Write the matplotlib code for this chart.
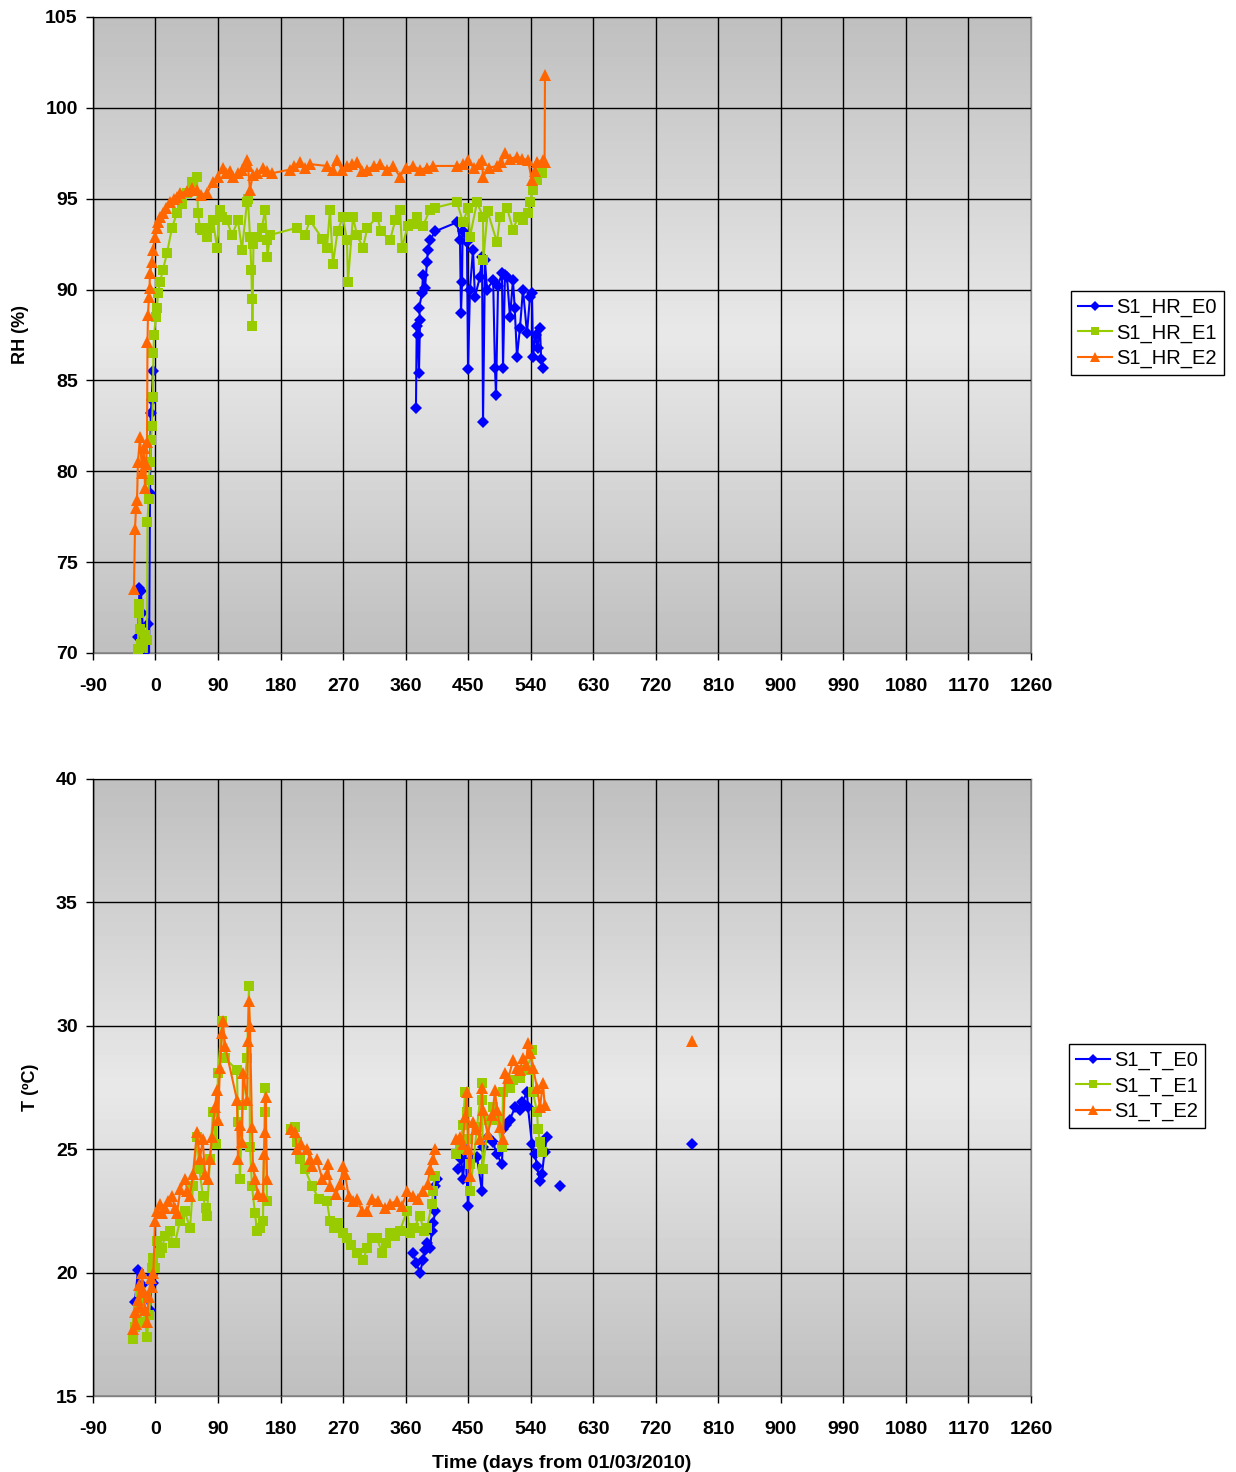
import numpy as np
import matplotlib
matplotlib.use("Agg")
import matplotlib.pyplot as plt

nan = np.nan

# ---- RH (%) -- top panel ----
hr_e0_day = [-27, -25.2, -23, -21, -19.4, -17, -14, -10.8, -9.5, -7.9, -6.8, -5.5, -3.6, nan,
             374.9, 376, 377.8, 379.2, 380.7, 379.5, 383.6, 385, 388, 390.7, 392.2, 395, 402.3,
             434, 438.3, 439.7, 441.2, 442, 448.3, 449.8, 452.6, 457, 459.8, 467, 470, 471.4,
             474.2, 477.1, 486, 488.6, 490.1, 493, 498.7, 500.2, 503, 505.9, 510.2, 514.5, 517,
             520.3, 524.6, 528.9, 534.7, 539, 541.9, 543.4, 547, 550, 553.4, 555, 557.7]
hr_e0 = [68.5, 70.9, 73.6, 73.4, 72.2, 70.0, 67.5, 71.6, 68.0, 78.8, 83.2, 83.9, 85.5, nan,
         83.5, 88.0, 87.5, 85.4, 88.3, 89.0, 89.8, 90.8, 90.1, 91.5, 92.2, 92.7, 93.2,
         93.7, 92.7, 88.7, 90.4, 93.2, 92.6, 85.6, 90.0, 92.2, 89.6, 90.7, 91.8, 82.7,
         91.6, 90.0, 90.5, 85.7, 84.2, 90.2, 90.9, 85.7, 90.8, 90.7, 88.5, 90.5, 89.0,
         86.3, 87.9, 90.0, 87.6, 89.6, 89.8, 86.3, 87.5, 86.8, 87.9, 86.2, 85.7]

hr_e1_day = [-26, -25.2, -24, -23, -22.3, -21, -19, -15, -13, -12.2, -11.5, -10, -9.4, -7.9,
             -6.5, -5, -3.6, -3, -2.2, 0.7, 2.2, 3.6, 6.5, 10.8, 16.6, 23.7, 30.9, 38.1, 45.3,
             52.5, 59.7, 61.2, 64, 66.9, 74.1, 78.4, 82.8, 88.5, 92.8, 95.7, 102.9, 110, 118.7,
             124.5, 131.7, 133.1, 136, 138, 138.9, 139.5, 141, 146, 153.3, 157.6, 160.5, 161,
             165, 203.7, 215, 222.4, 240, 246.8, 251.1, 255.4, 262, 269.8, 275.6, 277, 284.2,
             290, 298.6, 305, 318.8, 325, 337.5, 345, 351.9, 354.8, 363, 370, 376, 385, 395,
             402, 434, 442.6, 450, 452.6, 462.7, 471.4, 471.8, 478, 491.5, 495.8, 505.9, 514.5,
             522, 528.9, 536, 539, 543.4, 549.1, 556.3]
hr_e1 = [69.0, 70.2, 72.7, 72.2, 71.3, 70.5, 69.5, 71.0, 68.5, 70.7, 77.2, 78.5, 79.5, 80.5,
         81.7, 82.5, 84.1, 86.5, 87.5, 88.5, 89.0, 89.8, 90.4, 91.1, 92.0, 93.4, 94.2, 94.7, 95.3,
         95.9, 96.2, 94.2, 93.4, 93.3, 92.9, 93.4, 93.8, 92.3, 94.4, 94.0, 93.8, 93.0, 93.8,
         92.2, 94.8, 95.0, 92.9, 91.1, 89.5, 88.0, 92.5, 92.9, 93.4, 94.4, 92.7, 91.8,
         93.0, 93.4, 93.0, 93.8, 92.8, 92.3, 94.4, 91.4, 93.2, 94.0, 92.7, 90.4, 94.0,
         93.0, 92.3, 93.4, 94.0, 93.2, 92.7, 93.8, 94.4, 92.3, 93.5, 93.6, 94.0, 93.5, 94.4,
         94.5, 94.8, 93.7, 94.5, 92.9, 94.8, 94.0, 91.6, 94.3, 92.6, 94.0, 94.5, 93.3,
         94.0, 93.8, 94.2, 94.8, 95.5, 96.0, 96.4]

hr_e2_day = [-31, -29.5, -28, -26.6, -25.2, -22.3, -19.4, -17, -15, -13.5, -12.2, -11.5, -10.8,
             -9.4, -8.6, -7.9, -5, -3.6, -0.7, 1.5, 3.6, 7, 10.8, 15, 20.9, 26, 30.9, 36, 45.3,
             52, 59.7, 66, 74.1, 82.8, 90, 97.1, 102, 107.2, 111.5, 118.7, 125, 131.7, 133, 136,
             140.3, 146.1, 154.7, 160, 167.7, 193.6, 200, 208, 215, 222.4, 246.8, 255, 261.2,
             268, 275.6, 283, 290, 297, 304.4, 315, 323.1, 333, 341.8, 351.9, 360, 370.6, 380,
             390.7, 399.4, 434, 442, 449.8, 458, 465, 469.9, 471.4, 480, 491.5, 498, 503, 510,
             520.3, 528, 536.1, 541.9, 546, 549.1, 557.7, 560, 560.6]
hr_e2 = [73.5, 76.8, 78.0, 78.4, 80.5, 81.9, 79.9, 81.3, 79.1, 80.4, 81.6, 87.1, 88.6,
         89.6, 90.1, 90.9, 91.5, 92.2, 92.9, 93.4, 93.7, 94.0, 94.2, 94.5, 94.8, 95.0, 95.1, 95.3, 95.4,
         95.6, 95.5, 95.2, 95.3, 95.9, 96.2, 96.7, 96.4, 96.5, 96.2, 96.4, 96.6, 97.1, 96.8, 95.5,
         96.3, 96.4, 96.7, 96.5, 96.4, 96.6, 96.8, 97.0, 96.7, 96.9, 96.8, 96.6, 97.1,
         96.6, 96.8, 96.9, 97.0, 96.5, 96.6, 96.8, 96.9, 96.6, 96.8, 96.2, 96.7, 96.8, 96.6,
         96.7, 96.8, 96.8, 96.9, 97.1, 96.7, 96.9, 97.1, 96.2, 96.7, 96.8, 97.0, 97.5, 97.2,
         97.3, 97.2, 97.1, 96.0, 96.5, 97.0, 97.1, 97.0, 101.8]

# ---- T (ºC) -- bottom panel ----
t_e0_day = [-29.5, -25.2, -22.3, -20, -15, -7.9, -5.0, -3, nan,
            370.6, 375, 380.7, 385.0, 388, 390.7, 395, 397.9, 400, 402.3, 403, 405.2, nan,
            435.4, 440, 442.6, 446, 449.8, 452, 455.5, 462.7, 469.9, 471.4, 478, 485.8, 491,
            498.7, 500.2, 505, 510.2, 517.4, 524.6, 528, 534.7, 536.1, 541.9, 546.3, 549.1,
            553.4, 556.3, 560, 563.5, nan, 582.2, nan, 772.2]
t_e0 = [18.8, 20.1, 18.4, 19.5, 19.0, 18.5, 19.9, 19.6, nan,
        20.8, 20.4, 20.0, 20.5, 20.9, 21.2, 21.0, 21.7, 22.0, 22.5, 23.5, 23.8, nan,
        24.2, 24.6, 23.8, 25.0, 22.7, 24.5, 24.6, 24.7, 23.3, 25.1, 25.5, 25.3, 24.8,
        24.4, 25.8, 26.0, 26.2, 26.7, 26.6, 26.9, 27.3, 26.7, 25.2, 24.8, 24.3,
        23.7, 24.0, 24.9, 25.5, nan, 23.5, nan, 25.2]

t_e1_day = [-32.4, -30, -27, -25.2, -22, -19.4, -15, -12.2, -9, -5.0, -3.6, -1, 2.2, 6, 9.4,
            14, 20.9, 25, 28.1, 35.3, 42, 49.7, 54.0, 59.7, 63, 68.4, 72, 74.1, 78.4, 82.8, 87,
            90.0, 95.7, 100.0, 117.3, 118.7, 121.6, 125, 131.7, 134.6, 136.0, 138.9, 143.2,
            146.1, 150, 154.7, 157.6, 158, 160.5, nan,
            195, 200.8, 204, 208, 215, 225.3, 235, 246.8, 251.1, 257, 262.7, 270, 275.6, 282,
            290, 298.6, 305, 312, 318.8, 326.0, 332, 337.5, 345, 351.9, 362.0, 366.3, 372,
            380.7, 386, 390.7, 397.9, 399.4, 402.3, nan,
            432, 438, 442.6, 445.5, 448.3, 449.8, 452.6, 453, 462.7, 469.9, 470.5, 471, 480,
            485.8, 491.5, 498.7, 500.2, 510.2, 514.5, 524.6, 534.7, 541.9, 543.4, 549.1,
            550.6, 553.4, 556]
t_e1 = [17.3, 17.8, 18.2, 18.5, 19.2, 19.0, 18.0, 17.4, 18.3, 20.2, 20.6, 20.2, 21.3, 20.8, 21.0,
        21.5, 21.7, 21.2, 21.2, 22.1, 22.5, 21.8, 23.5, 25.5, 24.2, 23.1, 22.6, 22.3, 24.6, 26.5, 25.2,
        28.1, 30.2, 28.7, 28.2, 26.1, 23.8, 26.8, 28.7, 31.6, 25.1, 23.5, 22.4,
        21.7, 21.8, 22.1, 27.5, 26.5, 22.9, nan,
        25.8, 25.9, 25.3, 24.6, 24.2, 23.5, 23.0, 22.9, 22.1, 21.8, 22.0, 21.6, 21.4, 21.1,
        20.8, 20.5, 21.0, 21.4, 21.4, 20.8, 21.2, 21.6, 21.5, 21.7, 22.5, 21.6, 21.8,
        22.3, 21.7, 21.8, 22.8, 23.3, 23.9, nan,
        24.8, 25.0, 26.0, 27.3, 26.5, 25.4, 24.4, 23.3, 25.9, 27.7, 27.0, 24.2, 26.2,
        26.7, 26.2, 25.1, 27.3, 27.5, 27.8, 27.9, 28.2, 29.0, 27.3, 26.5,
        25.8, 25.3, 24.9]

t_e2_day = [-32.4, -30, -28, -25.2, -23, -22.3, -19.4, -17, -15, -12.2, -10, -7, -5.0, -3,
            -0.7, 2, 6.5, 10, 14, 18, 23.7, 28, 30.9, 36, 42.5, 46, 49.7, 54, 59.7, 64, 68,
            71.2, 75.6, 78.4, 81.3, 85.6, 88.5, 90, 92.8, 95.7, 97.1, 100, 117.3, 118.7, 121,
            124.5, 125.9, 131.7, 133.1, 134.6, 136, 138.9, 140.3, 143.2, 147.5, 154.7, 156,
            157.6, 158.5, 160.5, nan,
            195, 200.8, 203.7, 210, 218.1, 222, 225.3, 232, 240, 246.8, 248.3, 251.1, 260, 266,
            270, 272.8, 278, 284.2, 290, 297.2, 304.4, 312, 320.2, 330, 337.5, 347.6, 355, 362,
            370.6, 378, 385, 392, 395, 399.4, 402.3, nan,
            432, 438.3, 442, 445.5, 448.3, 450, 452.6, 457, 462, 467, 469.9, 471, 478, 485,
            488.6, 491.5, 495.8, 500.2, 503, 508, 514.5, 520.3, 524.6, 528.9, 533, 536.1, 539,
            543.4, 549.1, 553.4, 557.7, 560, nan, 772.2]
t_e2 = [17.7, 18.4, 17.9, 18.9, 19.5, 18.6, 20.0, 19.2, 18.5, 18.0, 19.0, 19.8, 19.4, 20.0,
        22.1, 22.5, 22.8, 22.4, 22.6, 22.9, 23.1, 22.6, 22.4, 23.4, 23.8, 23.3, 23.1, 24.0, 25.7, 24.6, 25.4,
        24.0, 23.8, 24.6, 25.5, 26.7, 27.4, 26.2, 28.3, 29.7, 30.2, 29.2, 27.0, 24.6, 26.0,
        25.3, 28.1, 27.0, 29.4, 31.0, 30.0, 25.9, 24.3, 23.8, 23.2, 23.1, 24.8,
        25.7, 27.1, 23.8, nan,
        25.8, 25.7, 25.0, 25.2, 25.0, 24.6, 24.3, 24.6, 23.8, 24.0, 24.4, 23.5, 23.2, 23.6,
        24.3, 24.0, 23.1, 22.9, 23.0, 22.5, 22.5, 23.0, 22.9, 22.6, 22.8, 22.9, 22.7, 23.3,
        23.1, 23.0, 23.3, 23.6, 24.2, 24.6, 25.0, nan,
        25.4, 25.5, 25.2, 26.3, 27.3, 25.0, 23.9, 26.1, 25.8, 25.4, 27.5, 26.6, 25.6, 26.4,
        27.4, 26.6, 25.9, 25.4, 28.1, 27.9, 28.6, 28.3, 28.2, 28.7, 28.4, 29.3, 28.9,
        28.3, 27.5, 26.7, 27.7, 26.8, nan, 29.4]

x_ticks = np.arange(-90, 1261, 90)
series_colors = ["#0000FF", "#99CC00", "#FF6600"]
series_markers = ["D", "s", "^"]
marker_sizes = [6.5, 7.5, 9]

plt.rcParams["font.family"] = ["Liberation Sans", "DejaVu Sans"]
plt.rcParams["axes.unicode_minus"] = False

fig = plt.figure(figsize=(12.36, 14.72), dpi=100)
ax_rh = fig.add_axes([0.0752, 0.5564, 0.7589, 0.4321])
ax_t = fig.add_axes([0.0752, 0.0516, 0.7589, 0.4192])

# vertical grey gradient like the Excel plot area fill
shade = np.concatenate([np.linspace(0.75, 0.91, 50), np.linspace(0.91, 0.75, 50)])
shade_img = np.repeat(shade[:, None], 2, axis=1)


def style_axes(ax, ylim, ystep, ylabel):
    ax.imshow(shade_img, cmap="gray", vmin=0, vmax=1, aspect="auto",
              extent=[0, 1, 0, 1], transform=ax.transAxes, zorder=0, interpolation="bilinear")
    ax.set_xlim(-90, 1260)
    ax.set_ylim(*ylim)
    ax.set_xticks(x_ticks)
    ax.set_yticks(np.arange(ylim[0], ylim[1] + 0.1, ystep))
    ax.grid(True, color="black", linewidth=1)
    ax.set_axisbelow(False)
    for gl in ax.get_xgridlines() + ax.get_ygridlines():
        gl.set_zorder(1)
    ax.tick_params(direction="out", length=5, width=1, labelsize=14, pad=6)
    ax.tick_params(axis="x", pad=13)
    for lab in ax.get_xticklabels() + ax.get_yticklabels():
        lab.set_fontweight("bold")
    for sp in ax.spines.values():
        sp.set_color("#808080")
        sp.set_linewidth(1)
    ax.spines["left"].set_color("black")
    ax.set_ylabel(ylabel, fontsize=13, fontweight="bold", labelpad=12)


def draw(ax, xs, ys, names):
    for x, y, name, c, m, ms in zip(xs, ys, names, series_colors, series_markers, marker_sizes):
        ax.plot(x, y, color=c, marker=m, markersize=ms, linewidth=1.5,
                markeredgewidth=0, label=name, zorder=3, clip_on=True)


style_axes(ax_rh, (70, 105), 5, "RH (%)")
draw(ax_rh, [hr_e0_day, hr_e1_day, hr_e2_day], [hr_e0, hr_e1, hr_e2],
     ["S1_HR_E0", "S1_HR_E1", "S1_HR_E2"])

style_axes(ax_t, (15, 40), 5, "T (ºC)")
draw(ax_t, [t_e0_day, t_e1_day, t_e2_day], [t_e0, t_e1, t_e2],
     ["S1_T_E0", "S1_T_E1", "S1_T_E2"])
ax_t.set_xlabel("Time (days from 01/03/2010)", fontsize=14, fontweight="bold", labelpad=12)

for ax, anchor in [(ax_rh, (0.8665, 0.8023)), (ax_t, (0.865, 0.2908))]:
    h, l = ax.get_legend_handles_labels()
    leg = fig.legend(h, l, loc="upper left", bbox_to_anchor=anchor, fontsize=14.5,
                     frameon=True, fancybox=False, edgecolor="black", framealpha=1,
                     handlelength=1.7, handletextpad=0.2, borderpad=0.35, labelspacing=0.3,
                     borderaxespad=0, markerscale=0.8)
    leg.get_frame().set_linewidth(1)

fig.savefig("out.png", dpi=100)
